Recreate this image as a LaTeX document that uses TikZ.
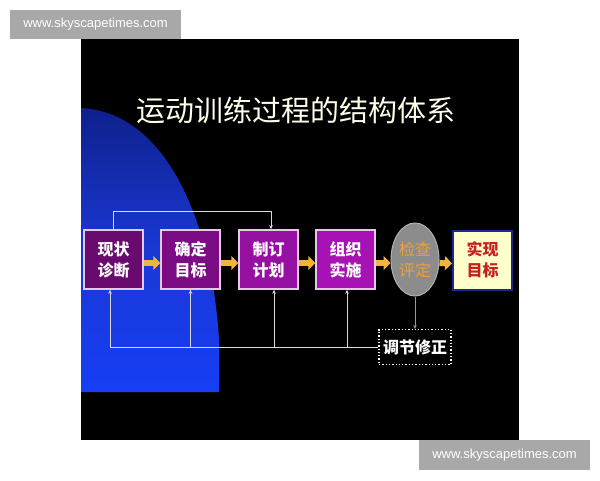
\documentclass[tikz,border=0pt]{standalone}
\usepackage{fontspec}
\setmainfont{Liberation Sans}
\newfontfamily\cjk{Noto Sans CJK SC}
\usetikzlibrary{arrows.meta,shapes.geometric,positioning}
\definecolor{panelblue}{RGB}{22,62,245}
\definecolor{panelmid}{RGB}{26,56,212}
\definecolor{paneldeep}{RGB}{14,32,140}
\definecolor{boxA}{RGB}{104,10,110}
\definecolor{boxB}{RGB}{124,12,132}
\definecolor{boxC}{RGB}{150,16,162}
\definecolor{boxD}{RGB}{166,18,180}
\definecolor{boxrim}{RGB}{232,200,232}
\definecolor{flowarrow}{RGB}{242,180,60}
\definecolor{checkgray}{RGB}{140,140,140}
\definecolor{checktext}{RGB}{236,160,60}
\definecolor{aimfill}{RGB}{255,255,204}
\definecolor{aimrim}{RGB}{26,42,140}
\definecolor{aimtext}{RGB}{200,30,30}
\definecolor{wmgray}{RGB}{168,168,168}
\tikzset{
  stage/.style={draw=boxrim, line width=1.5pt, minimum width=59pt, minimum height=59pt,
    inner sep=0pt, align=center, text=white, font=\cjk\bfseries\fontsize{16}{21}\selectfont},
  flow/.style={flowarrow, line width=6pt, -{Triangle[width=14pt,length=7pt]}},
  back/.style={draw=black!15, line width=0.9pt, -{Stealth[length=4pt,width=3.5pt]}},
  wmbox/.style={fill=wmgray, text=white, minimum width=171pt, minimum height=29pt,
    inner sep=0pt, font=\fontsize{13}{13}\selectfont}
}
\begin{document}
\begin{tikzpicture}[x=1pt,y=-1pt]
\useasboundingbox (0,0) rectangle (600,480);
\fill[white] (0,0) rectangle (600,480);
% panel
\fill[black] (81,39) rectangle (519,440);
\shade[top color=paneldeep, bottom color=panelblue, middle color=panelmid]
  (81,108) .. controls (165,112) and (212,220) .. (219,340) -- (219,392) -- (81,392) -- cycle;
% title
\node[text=white!92!yellow, font=\cjk\fontsize{29}{29}\selectfont] (title) at (296,110) {运动训练过程的结构体系};
% stages
\node[stage, fill=boxA] (diag) at (113.5,259.5) {现状\\诊断};
\node[stage, fill=boxB] (goal) at (190.5,259.5) {确定\\目标};
\node[stage, fill=boxC] (plan) at (268.5,259.5) {制订\\计划};
\node[stage, fill=boxD] (run) at (345.5,259.5) {组织\\实施};
\node[ellipse, fill=checkgray, draw=black!30, line width=1pt, minimum width=48pt, minimum height=73pt,
  inner sep=0pt, align=center, text=checktext, font=\cjk\fontsize{16}{21}\selectfont]
  (check) at (415,259.5) {检查\\评定};
\node[stage, fill=aimfill, draw=aimrim, line width=2pt, text=aimtext] (aim) at (482.5,260) {实现\\目标};
% flow
\draw[flow] ([yshift=-3.5pt]diag.east) -- ([yshift=-3.5pt]goal.west);
\draw[flow] ([yshift=-3.5pt]goal.east) -- ([yshift=-3.5pt]plan.west);
\draw[flow] ([yshift=-3.5pt]plan.east) -- ([yshift=-3.5pt]run.west);
\draw[flow] ([yshift=-3.5pt]run.east) -- ([yshift=-3.5pt]check.west);
\draw[flow] ([yshift=-3.5pt]check.east) -- ([yshift=-3.5pt]aim.west);
% adjust
\node[draw=white, dotted, line width=1.3pt, minimum width=72pt, minimum height=35pt, inner sep=0pt,
  text=white, font=\cjk\bfseries\fontsize{16}{16}\selectfont] (adj) at (415,347) {调节修正};
\draw[back, draw=black!40] (check.south) -- (adj.north);
% feedback
\draw[back] (adj.west) -| ([xshift=-3.5pt]diag.south);
\draw[back] (goal.south |- adj.west) -- (goal.south);
\draw[back] ([xshift=5.5pt]plan.south |- adj.west) -- ([xshift=5.5pt]plan.south);
\draw[back] ([xshift=1.5pt]run.south |- adj.west) -- ([xshift=1.5pt]run.south);
\draw[back] (diag.north) -- ++(0,-18) -| ([xshift=2.5pt]plan.north);
% watermarks
\node[wmbox] (wmtop) at (95.5,24.5) {www.skyscapetimes.com};
\node[wmbox, minimum height=30pt] (wmbottom) at (504.5,455) {www.skyscapetimes.com};
\end{tikzpicture}
\end{document}
